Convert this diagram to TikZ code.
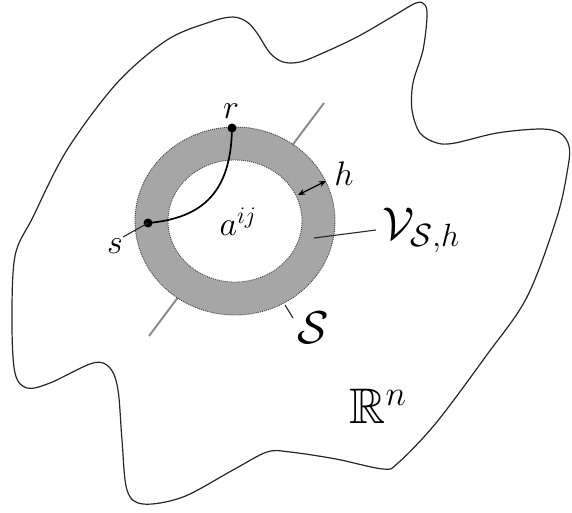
\RequirePackage{fix-cm}
\documentclass[tikz,border=0pt]{standalone}
\usepackage{amssymb}
\usetikzlibrary{arrows.meta}
\tikzset{
  blob/.style={draw=black!85, line width=1.2pt, line join=round},
  grayline/.style={draw=black!45, line width=2pt},
  ringfill/.style={fill=black!35},
  ringedge/.style={draw=black!75, line width=0.9pt, dash pattern=on 1pt off 1pt},
  thinline/.style={draw=black!85, line width=1.1pt},
  pathcurve/.style={draw=black, line width=1.7pt},
  dotnode/.style={circle, fill=black, inner sep=0pt, minimum size=9pt},
  smalllab/.style={inner sep=0pt, font=\fontsize{34}{40}\selectfont},
  biglab/.style={inner sep=0pt, font=\fontsize{46}{52}\selectfont},
}
\begin{document}
\begin{tikzpicture}[x=1pt,y=-1pt]
\useasboundingbox (0,0) rectangle (572,512);
% outer region
\draw[blob] plot[smooth cycle, tension=0.55] coordinates {
 (12,323) (15,256) (33,217) (67,150) (117,83) (167,40) (210,22) (233,17)
 (247,22) (257,33) (270,53) (283,62) (300,62) (323,53) (357,37) (390,18)
 (416,3) (425,5) (427,17) (423,50) (413,83) (412,110) (420,133) (437,143)
 (455,143) (497,133) (540,129) (560,133) (569,146) (568,167) (557,217)
 (527,297) (486,356) (436,423) (398,463) (383,469) (336,459) (290,452)
 (267,452) (233,470) (183,497) (143,504) (127,490) (122,440) (118,390)
 (110,368) (93,363) (50,383) (27,388) (15,373)};
% gray diagonal
\coordinate (g1) at (324,103);
\coordinate (g2) at (149,336);
\draw[grayline] (g1) -- (g2);
% ring
\coordinate (c) at (235,221);
\fill[ringfill] (c) ellipse [x radius=100, y radius=94];
\fill[white] (c) ellipse [x radius=67, y radius=61];
\draw[ringedge] (c) ellipse [x radius=100, y radius=94];
\draw[ringedge] (c) ellipse [x radius=67, y radius=61];
% path r -- s
\node[dotnode] (r) at (232,128) {};
\node[dotnode] (s) at (148,223) {};
\coordinate (sl) at (123,237);
\draw[thinline] (s.center) -- (sl);
\draw[pathcurve] (r.center) .. controls (231,190) and (205,218) .. (s.center);
% h arrow
\coordinate (h1) at (298,195);
\coordinate (h2) at (326,181);
\draw[black, line width=1.2pt, {Stealth[length=7pt,width=6pt]}-{Stealth[length=7pt,width=6pt]}] (h1) -- (h2);
% leader lines
\coordinate (v1) at (314,238);
\coordinate (v2) at (376,230);
\draw[thinline] (v1) -- (v2);
\coordinate (S1) at (285,305);
\coordinate (S2) at (293,318);
\draw[thinline] (S1) -- (S2);
% labels
\node[smalllab] (rlab) at (231,111) {$r$};
\node[smalllab] (slab) at (115,246) {$s$};
\node[smalllab] (alab) at (238,222) {$a^{ij}$};
\node[smalllab] (hlab) at (344,174) {$h$};
\node[biglab] (vlab) at (421,230) {$\mathcal{V}_{\mathcal{S},h}$};
\node[biglab] (Slab) at (313,328) {$\mathcal{S}$};
\node[inner sep=0pt, font=\fontsize{50}{56}\selectfont] (Rlab) at (378,406) {$\mathbb{R}^n$};
\end{tikzpicture}
\end{document}
